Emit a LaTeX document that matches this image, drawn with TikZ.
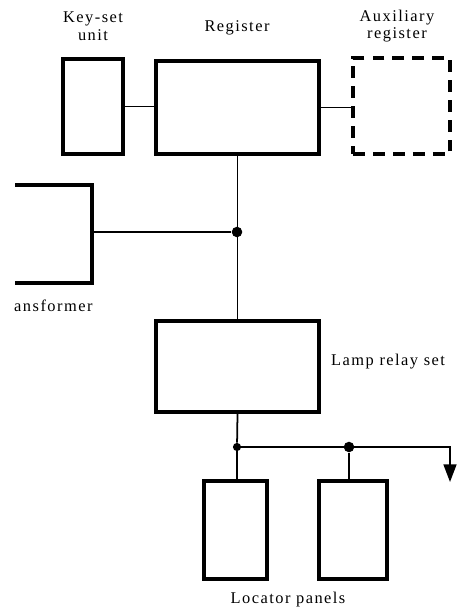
\documentclass[tikz,border=0pt]{standalone}
\usepackage{fontspec}
\setmainfont{Liberation Serif}
\newfontfamily\labelfont[LetterSpace=9]{Liberation Serif}
\usetikzlibrary{arrows,arrows.meta}

\begin{document}
\begin{tikzpicture}[
x=0.03cm, y=-0.03cm,
unit/.style={draw, line width=3.2pt, inner sep=0pt},
auxunit/.style={unit, dash pattern=on 10pt off 7pt},
lbl/.style={font=\labelfont\fontsize{14}{15}\selectfont, align=center, inner sep=0pt},
wire/.style={line width=1.5pt},
dot/.style={circle, fill, inner sep=0pt, minimum size=9pt},
arrow/.style={wire, -{Triangle[length=15pt,width=11pt]}} ]

\useasboundingbox (0,0) rectangle (463,610);

\node[unit, minimum width=1.8cm, minimum height=2.85cm] (key) at (93,106.5) {};

\node[unit, minimum width=4.9cm, minimum height=2.8cm] (reg) at (237.5,107.5) {};

\node[auxunit, minimum width=2.9cm, minimum height=2.9cm] (aux) at (401.5,106) {};

\node[unit, minimum width=4.9cm, minimum height=2.75cm] (lamp) at (237.5,366.5) {};

\node[unit, minimum width=1.9cm, minimum height=2.95cm] (pan1) at (235.5,530) {};

\node[unit, minimum width=2.05cm, minimum height=2.95cm] (pan2) at (353,530) {};

\node[lbl] (keylbl) at (93,26) {Key-set\\unit};

\node[lbl] (reglbl) at (237,28) {Register};

\node[lbl] (auxlbl) at (397,26) {Auxiliary\\register};

\node[lbl, anchor=west] (trafolbl) at (14,306) {ansformer};

\node[lbl, anchor=west] (lamplbl) at (331,362) {Lamp relay set};

\node[lbl] (panlbl) at (288,600) {Locator panels};

% transformer, cut off at the left edge
\draw[line width=3.2pt] (15,185) -- (92,185) -- (92,283) -- (15,283);
\coordinate (trafo) at (92,232);

\node[dot] (j1) at (237,232) {};
\node[dot, minimum size=7pt] (j2) at (237,447) {};
\node[dot] (j3) at (349,447) {};
\coordinate (bend) at (450,447);
\coordinate (out) at (450,482);

\draw[wire] (key.east) -- (key.east -| reg.west);
\draw[wire] (reg.east) -- (reg.east -| aux.west);
\draw[wire] (reg.south) -- (lamp.north);
\draw[wire] (trafo) -- (j1);
\draw[wire] (lamp.south) -- (j2);
\draw[wire] (j2) -- (j2 |- pan1.north);
\draw[wire] (j3) -- (j3 |- pan2.north);
\draw[arrow] (j2) -- (bend) -- (out);

\end{tikzpicture}
\end{document}
